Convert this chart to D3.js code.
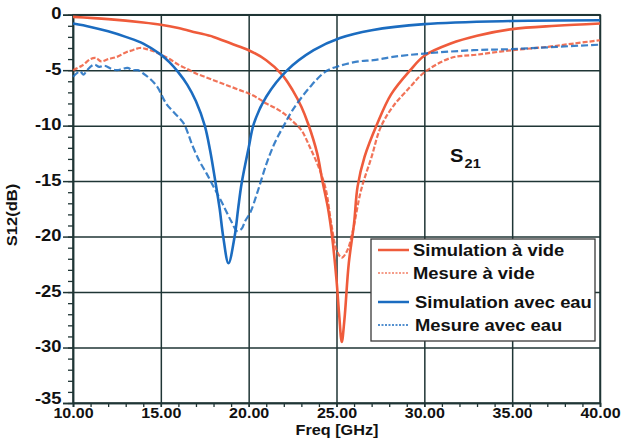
<!DOCTYPE html>
<html><head><meta charset="utf-8">
<script src="https://cdn.jsdelivr.net/npm/d3@7"></script>
<style>body{margin:0;background:#fff}svg{display:block}</style>
</head><body>
<svg id="c" width="621" height="438"></svg>
<script>
// ---- data ----
const xTickValues = [10, 15, 20, 25, 30, 35, 40];
const xTickLabels = ["10.00", "15.00", "20.00", "25.00", "30.00", "35.00", "40.00"];
const yTickValues = [0, -5, -10, -15, -20, -25, -30, -35];
const yTickLabels = ["0", "-5", "-10", "-15", "-20", "-25", "-30", "-35"];

const simVideF = [10, 12, 14, 15, 16, 17, 18, 19, 20, 21, 21.9, 22.5, 23, 23.4, 23.9, 24.2, 24.5, 24.75, 25.0, 25.15, 25.3, 25.45, 25.7, 26.0, 26.2, 26.6, 27.3, 28.1, 29.2, 30, 31.5, 33, 35, 37.5, 40];
const simVideDB = [-0.2, -0.4, -0.7, -0.9, -1.2, -1.6, -2.0, -2.6, -3.2, -4.1, -5.4, -6.8, -8.3, -9.9, -12.5, -15.0, -17.3, -20.0, -23.9, -27.0, -29.5, -27.5, -22.4, -18.8, -15.5, -12.8, -9.9, -7.2, -5.0, -3.7, -2.6, -1.9, -1.3, -1.0, -0.8];

const mesVideF = [10, 10.5, 11, 11.3, 11.6, 12, 12.5, 13, 13.4, 13.8, 14.2, 14.6, 15, 15.5, 16, 16.5, 17, 17.5, 18, 18.5, 19, 19.5, 20, 20.5, 21, 21.5, 22, 22.5, 23, 23.5, 24, 24.4, 24.7, 25, 25.3, 25.6, 25.9, 26.4, 27, 27.5, 28.2, 29.2, 30, 31.5, 33, 35, 37, 38.5, 40];
const mesVideDB = [-5.0, -4.6, -4.0, -3.9, -4.2, -4.0, -3.8, -3.4, -3.2, -3.0, -3.1, -3.3, -3.6, -4.0, -4.5, -4.9, -5.3, -5.6, -5.9, -6.2, -6.5, -6.8, -7.1, -7.5, -8.0, -8.4, -8.9, -9.6, -10.4, -12.0, -13.8, -15.8, -18.8, -21.2, -21.9, -21.3, -19.7, -15.8, -12.8, -10.2, -8.3, -6.5, -5.2, -3.9, -3.6, -3.2, -2.9, -2.6, -2.3];

const simEauF = [10, 11, 12, 13, 14, 15, 15.5, 16, 16.5, 17, 17.5, 17.8, 18.1, 18.35, 18.55, 18.85, 19.2, 19.4, 19.6, 20.0, 20.3, 21, 22.2, 23.7, 25.2, 27, 30, 35, 40];
const simEauDB = [-0.8, -1.1, -1.5, -2.0, -2.6, -3.6, -4.3, -5.2, -6.3, -7.8, -10.0, -12.2, -15.0, -17.5, -20.0, -22.4, -20.0, -17.5, -15.2, -12.0, -9.8, -7.4, -5.0, -3.2, -2.1, -1.4, -0.85, -0.57, -0.5];

const mesEauF = [10, 10.2, 10.4, 10.6, 10.8, 11.2, 11.5, 11.8, 12.2, 12.5, 12.8, 13.1, 13.4, 13.7, 14.0, 14.4, 14.8, 15.3, 15.8, 16.3, 16.8, 17.2, 17.6, 18.0, 18.5, 19.0, 19.35, 19.6, 19.8, 20.1, 20.5, 21.0, 21.5, 22.0, 22.5, 23.5, 24.4, 25.2, 26.3, 27.1, 28.2, 30, 32.8, 35, 37.5, 40];
const mesEauDB = [-5.6, -5.3, -5.1, -5.4, -5.0, -4.5, -4.7, -4.6, -4.9, -5.0, -4.9, -4.8, -5.0, -5.0, -5.3, -5.8, -6.5, -8.0, -8.9, -9.8, -11.8, -13.2, -14.3, -15.5, -17.0, -18.6, -19.5, -19.3, -18.6, -17.8, -16.0, -13.5, -11.5, -10.0, -8.6, -6.5, -5.1, -4.6, -4.2, -4.1, -3.8, -3.5, -3.2, -3.1, -2.9, -2.7];

const legendLabels = ["Simulation à vide", "Mesure à vide", "Simulation avec eau", "Mesure avec eau"];

// ---- layout ----
const ORANGE = "#ef5b3b", BLUE = "#1b6cc0", GRID = "#1f3535";
const L = 73, R = 600, T = 14.7, B = 403;
const FONT = "'Liberation Sans', Arial, sans-serif";
const SX = 1.15;

const svg = d3.select("#c");
const x = d3.scaleLinear().domain([10, 40]).range([L, R]);
const y = d3.scaleLinear().domain([-35, 0]).range([B, T]);

// grid
const gGrid = svg.append("g");
gGrid.append("g").attr("transform", `translate(0,${B})`)
  .call(d3.axisBottom(x).tickValues(xTickValues).tickSize(-(B - T)).tickFormat(""))
  .call(g => g.select(".domain").remove())
  .selectAll("line").attr("stroke", GRID).attr("stroke-width", 1.5);
gGrid.append("g").attr("transform", `translate(${L},0)`)
  .call(d3.axisLeft(y).tickValues(yTickValues).tickSize(-(R - L)).tickFormat(""))
  .call(g => g.select(".domain").remove())
  .selectAll("line").attr("stroke", GRID).attr("stroke-width", 1.5);
svg.append("rect").attr("x", L).attr("y", T).attr("width", R - L).attr("height", B - T)
  .attr("fill", "none").attr("stroke", GRID).attr("stroke-width", 1.5);

// minor ticks
svg.append("g").attr("transform", `translate(0,${B})`)
  .call(d3.axisBottom(x).tickValues(d3.range(10, 40.01, 1)).tickSize(4).tickFormat(""))
  .call(g => g.select(".domain").remove())
  .selectAll("line").attr("stroke", GRID).attr("stroke-width", 1.3);
svg.append("g").attr("transform", `translate(${L},0)`)
  .call(d3.axisLeft(y).tickValues(d3.range(-35, 0.01, 1)).tickSize(5).tickFormat(""))
  .call(g => g.select(".domain").remove())
  .selectAll("line").attr("stroke", GRID).attr("stroke-width", 1.3);

// major axes with labels
const ax = svg.append("g").attr("transform", `translate(0,${B})`)
  .call(d3.axisBottom(x).tickValues(xTickValues).tickSize(4).tickPadding(0)
    .tickFormat((d, i) => xTickLabels[i]));
ax.select(".domain").attr("stroke", GRID).attr("stroke-width", 1.5);
ax.selectAll("line").attr("stroke", GRID).attr("stroke-width", 1.5);
ax.selectAll("text").attr("font-family", FONT).attr("font-weight", "bold").attr("font-size", 15)
  .attr("fill", "#111").attr("transform", "scale(1.07,1)").attr("dy", "0.71em");

const ay = svg.append("g").attr("transform", `translate(${L},0)`)
  .call(d3.axisLeft(y).tickValues(yTickValues).tickSize(10).tickPadding(2)
    .tickFormat((d, i) => yTickLabels[i]));
ay.select(".domain").attr("stroke", GRID).attr("stroke-width", 1.5);
ay.selectAll("line").attr("stroke", GRID).attr("stroke-width", 1.5);
ay.selectAll("text").attr("font-family", FONT).attr("font-weight", "bold").attr("font-size", 16)
  .attr("fill", "#111").attr("transform", `scale(${SX},1)`).attr("x", -10)
  .attr("dy", d => d === -35 ? "0.0em" : "0.25em");

// axis titles
svg.append("text").attr("transform", `translate(337,435) scale(1.08,1)`)
  .attr("text-anchor", "middle").attr("font-family", FONT).attr("font-weight", "bold")
  .attr("font-size", 15).attr("fill", "#111").text("Freq [GHz]");
svg.append("text").attr("transform", `translate(17,215) rotate(-90) scale(1.1,1)`)
  .attr("text-anchor", "middle").attr("font-family", FONT).attr("font-weight", "bold")
  .attr("font-size", 15).attr("fill", "#111").text("S12(dB)");

// curves
const series = [
  {f: simVideF, v: simVideDB, color: ORANGE, w: 2.6, dash: null},
  {f: mesVideF, v: mesVideDB, color: ORANGE, w: 2.2, dash: "5,2"},
  {f: simEauF, v: simEauDB, color: BLUE, w: 2.6, dash: null},
  {f: mesEauF, v: mesEauDB, color: BLUE, w: 2.2, dash: "7,3"}
];
const curve = d3.line().x(d => x(d[0])).y(d => y(d[1])).curve(d3.curveCatmullRom.alpha(0.5));
series.forEach(s => {
  svg.append("path").datum(s.f.map((f, i) => [f, s.v[i]]))
    .attr("d", curve).attr("fill", "none").attr("stroke", s.color)
    .attr("stroke-width", s.w).attr("stroke-dasharray", s.dash)
    .attr("stroke-linejoin", "round").attr("opacity", s.dash ? 0.85 : 1);
});

// S21 label
const s21 = svg.append("text").attr("transform", `translate(450,162) scale(1.12,1)`)
  .attr("font-family", FONT).attr("font-weight", "bold").attr("font-size", 18).attr("fill", "#111");
s21.append("tspan").text("S");
s21.append("tspan").attr("font-size", 13).attr("dy", 6).attr("dx", 1).text("21");

// legend
const lg = svg.append("g");
lg.append("rect").attr("x", 371).attr("y", 239).attr("width", 224).attr("height", 102)
  .attr("fill", "#fff").attr("stroke", "#3a3a3a").attr("stroke-width", 1.3);
const legendStyles = [
  {color: ORANGE, w: 2.5, dash: null, op: 1},
  {color: ORANGE, w: 1.8, dash: "2,1.5", op: 0.6},
  {color: BLUE, w: 2.5, dash: null, op: 1},
  {color: BLUE, w: 1.6, dash: "2,1.5", op: 1}
];
const rowY = [250, 273, 302, 325];
legendLabels.forEach((lab, i) => {
  const st = legendStyles[i];
  lg.append("line").attr("x1", 378).attr("x2", 409).attr("y1", rowY[i]).attr("y2", rowY[i])
    .attr("stroke", st.color).attr("stroke-width", st.w).attr("stroke-dasharray", st.dash)
    .attr("opacity", st.op);
  lg.append("text").attr("transform", `translate(${i >= 2 ? 415 : 413},${rowY[i] + 6}) scale(${SX},1)`)
    .attr("font-family", FONT).attr("font-weight", "bold").attr("font-size", 16)
    .attr("fill", "#111").text(lab);
});
</script>
</body></html>
